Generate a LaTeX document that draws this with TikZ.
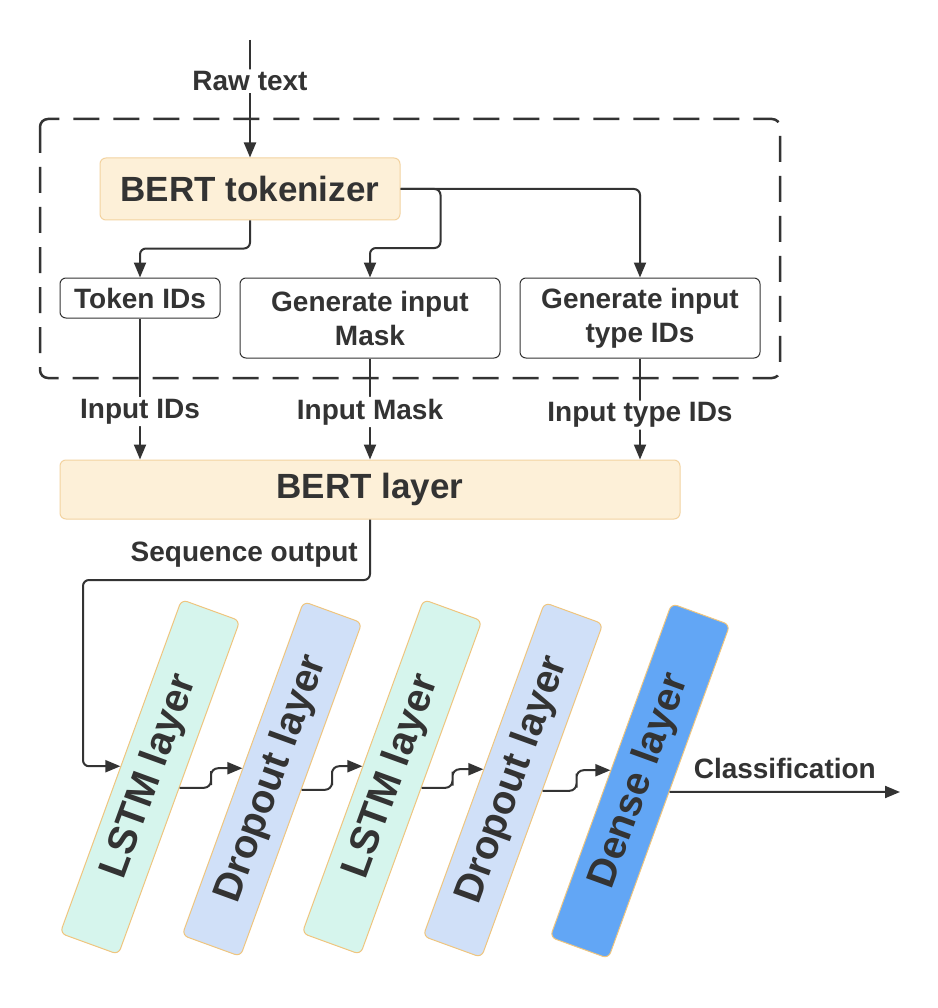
\documentclass[tikz,border=0pt]{standalone}
\usepackage{fontspec}
\setmainfont{Liberation Sans}
\usetikzlibrary{arrows.meta,calc}
\definecolor{ink}{HTML}{333333}
\definecolor{creamfill}{HTML}{FDF0D8}
\definecolor{creamline}{HTML}{F3D3A0}
\definecolor{lstmfill}{HTML}{D6F5ED}
\definecolor{dropfill}{HTML}{D0E0F8}
\definecolor{densefill}{HTML}{62A6F5}
\definecolor{slantline}{HTML}{EFC57E}
\tikzset{
  arr/.style={draw=ink, line width=2pt, rounded corners=6pt, -{Triangle[length=15pt,width=12pt]}},
  lbl/.style={font=\fontsize{28}{34}\selectfont\bfseries, text=ink, inner sep=2pt},
  lblw/.style={lbl, fill=white},
  titlebox/.style={draw=creamline, fill=creamfill, line width=1pt, rounded corners=6pt,
    font=\fontsize{35}{40}\selectfont\bfseries, text=ink},
  genbox/.style={draw=ink, fill=white, line width=1pt, rounded corners=6pt, align=center,
    font=\fontsize{28}{34}\selectfont\bfseries, text=ink},
  slantbox/.style={draw=slantline, line width=1pt, rounded corners=6pt, rotate=70,
    minimum width=355pt, minimum height=62pt, inner sep=0pt,
    font=\fontsize{40}{44}\selectfont\bfseries, text=ink},
  groupbox/.style={draw=ink, line width=2.5pt, dash pattern=on 26pt off 14pt, rounded corners=8pt}
}
\begin{document}
\begin{tikzpicture}[x=1pt,y=-1pt]
\fill[white] (0,0) rectangle (937,1008);
\useasboundingbox (0,0) rectangle (937,1008);
% group
\draw[groupbox] (40,119) rectangle (780,378);
% top nodes
\coordinate (rawtop) at (250,40);
\node[titlebox, minimum width=300pt, minimum height=62pt] (tok) at (250,189) {BERT tokenizer};
\node[genbox, minimum width=160pt, minimum height=40pt, inner sep=0pt] (tid) at (140,298) {Token IDs};
\node[genbox, minimum width=260pt, minimum height=80pt, inner sep=0pt] (mask) at (370,318) {Generate input\\Mask};
\node[genbox, minimum width=240pt, minimum height=80pt, inner sep=0pt] (type) at (640,318) {Generate input\\type IDs};
\node[titlebox, minimum width=620pt, minimum height=59pt] (bert) at (370,489.5) {BERT layer};
% slanted layers
\node[slantbox, fill=lstmfill] (l1) at (150,777) {LSTM layer};
\node[slantbox, fill=dropfill] (d1) at (272,779) {Dropout layer};
\node[slantbox, fill=lstmfill] (l2) at (392,777) {LSTM layer};
\node[slantbox, fill=dropfill] (d2) at (513,780) {Dropout layer};
\node[slantbox, fill=densefill] (dn) at (640,781) {Dense layer};
\coordinate (out) at (900,792);
\coordinate (seqbend) at (83,580);
% connectors
\draw[arr] (rawtop) -- (tok.north) node[lblw, pos=0.35] {Raw text};
\draw[arr] (tok.south) -- ++(0,28) -| (tid.north);
\draw[arr] (tok.east) -| ++(40,59) -| (mask.north);
\draw[arr] (tok.east) -| (type.north);
\draw[arr] (tid.south) -- (tid.south |- bert.north) node[lblw, pos=0.66] {Input IDs};
\draw[arr] (mask.south) -- (mask.south |- bert.north) node[lblw, pos=0.53] {Input Mask};
\draw[arr] (type.south) -- (type.south |- bert.north) node[lblw, pos=0.56] {Input type IDs};
\draw[arr] (bert.south) |- (seqbend) |- (l1.north);
\node[lbl, anchor=east] (seqlbl) at (360,555) {Sequence output};
\draw[arr, rounded corners=7pt] (l1.south) -| ($(l1.south)!.5!(d1.north)$) |- (d1.north);
\draw[arr, rounded corners=7pt] (d1.south) -| ($(d1.south)!.5!(l2.north)$) |- (l2.north);
\draw[arr, rounded corners=7pt] (l2.south) -| ($(l2.south)!.5!(d2.north)$) |- (d2.north);
\draw[arr, rounded corners=7pt] (d2.south) -| ($(d2.south)!.5!(dn.north)$) |- (dn.north);
\draw[arr] (dn.south) -- (out) node[lbl, midway, above=10pt] {Classification};
\end{tikzpicture}
\end{document}
